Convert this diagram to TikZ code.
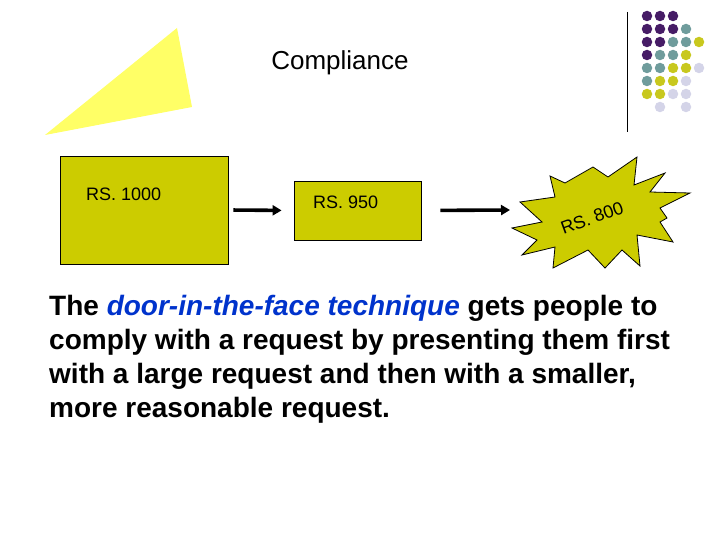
\documentclass[tikz,border=0pt]{standalone}
\usepackage{fontspec}
\setmainfont{Liberation Sans}
\usepackage{xcolor}
\usetikzlibrary{positioning, arrows.meta, calc}

\definecolor{olivebox}{RGB}{204,204,0}
\definecolor{paleyellow}{RGB}{255,255,102}
\definecolor{dotpurple}{RGB}{70,28,102}
\definecolor{dotteal}{RGB}{111,156,156}
\definecolor{dotlime}{RGB}{200,200,30}
\definecolor{dotlilac}{RGB}{212,212,232}
\definecolor{termblue}{RGB}{0,51,204}

\begin{document}
\begin{tikzpicture}[
      x=1pt, y=-1pt, % pixel grid, y pointing down
      >={Triangle[length=9pt,width=10pt]},
      amount/.style={draw=black, line width=0.8pt, fill=olivebox},
      money/.style={font=\fontsize{18}{20}\selectfont, inner sep=0pt, anchor=west},
      pushes/.style={->, line width=3.6pt, black},
      dot/.style={circle, inner sep=0pt, minimum size=10.5pt},
    ]
    \useasboundingbox (0,0) rectangle (720,540);

    % ---- decoration ------------------------------------------------------
    \fill[paleyellow] (177,28) -- (192,107) -- (45,135) -- cycle;
    \draw[line width=0.8pt] (627,12) -- (627,132);
    \foreach \clr/\cells in {
        dotpurple/{0/0,1/0,2/0,0/1,1/1,2/1,0/2,1/2,0/3},
        dotteal/{3/1,2/2,3/2,1/3,2/3,0/4,1/4,0/5},
        dotlime/{4/2,3/3,2/4,3/4,1/5,2/5,0/6,1/6},
        dotlilac/{4/4,3/5,2/6,3/6,1/7,3/7}}{%
      \foreach \i/\j in \cells
        \node[dot, fill=\clr] (dot-\i-\j) at ({647+13*\i},{16+13*\j}) {};
    }

    % ---- title -----------------------------------------------------------
    \node[font=\fontsize{26}{28}\selectfont] (title) at (340,63) {Compliance};

    % ---- offers ----------------------------------------------------------
    \node[amount, minimum width=168pt, minimum height=108pt] (big) at (144,210) {};
    \node[money] (bigtxt) at (86,194) {RS. 1000};

    \node[amount, minimum width=127pt, minimum height=59pt] (mid) at (357.5,210.5) {};
    \node[money] (midtxt) at (313,202) {RS. 950};

    \filldraw[amount]
      (550,176) -- (565,183) -- (593,167) -- (608,177) -- (637,157) --
      (634,185) -- (665,173) -- (650,192) -- (690,193) -- (660,208) --
      (667,218) -- (660,222) -- (673,242) -- (637,235) -- (640,266) --
      (622,250) -- (605,268) -- (588,250) -- (553,268) -- (555,247) --
      (522,255) -- (537,240) -- (512,228) -- (542,222) -- (520,202) --
      (555,197) -- cycle;
    \coordinate (burst) at (510,210);
    \node[money, anchor=center, rotate=20] (bursttxt) at (592,218) {RS. 800};

    \draw[pushes, shorten <=5pt, shorten >=12pt] (big.east) -- (mid.west);
    \draw[pushes, shorten <=19pt] (mid.east) -- (burst);

    % ---- explanation -----------------------------------------------------
    \node[anchor=north west, align=left, inner sep=0pt,
          font=\fontsize{28}{34}\selectfont\bfseries] (note) at (49,295)
      {The {\color{termblue}\itshape door-in-the-face technique} gets people to\\
       comply with a request by presenting them first\\
       with a large request and then with a smaller,\\
       more reasonable request.};
\end{tikzpicture}
\end{document}
